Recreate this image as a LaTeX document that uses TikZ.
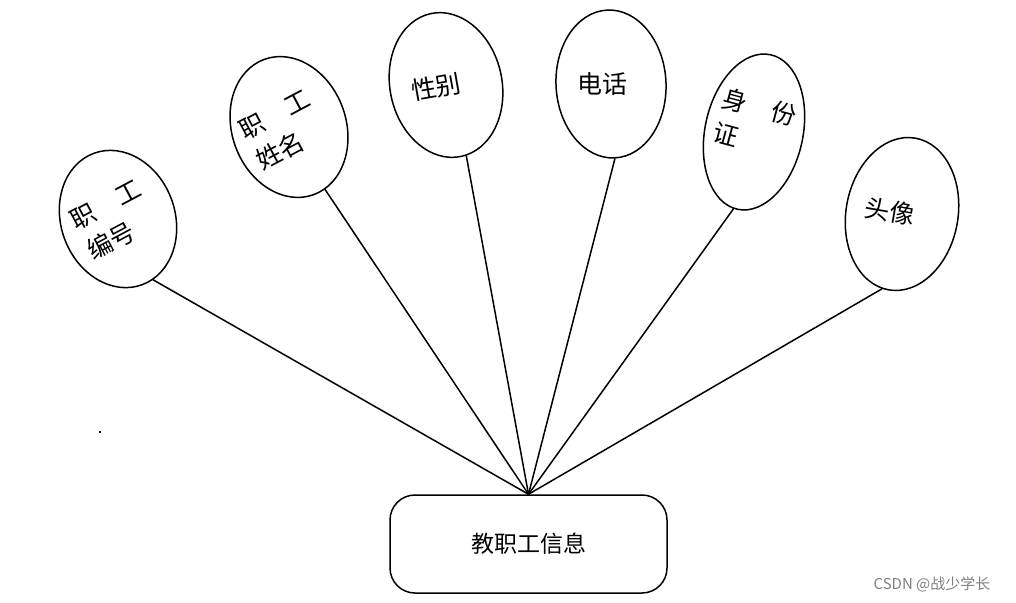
\documentclass[tikz,border=0pt]{standalone}
\usepackage{fontspec}
\setmainfont{Noto Sans CJK SC}
\usetikzlibrary{shapes.geometric}

\tikzset{
    attr/.style={draw, ellipse, line width=1.5pt, inner sep=0pt},
    attrtext/.style={font=\fontsize{25}{35}\selectfont, align=left, inner sep=0pt},
    entity/.style={draw, rounded corners=25pt, line width=1.5pt, minimum width=277pt, minimum height=98pt, font=\fontsize{23}{26}\selectfont},
    link/.style={line width=1.5pt}
}

\begin{document}
\begin{tikzpicture}[x=1pt, y=-1pt]
    \useasboundingbox (0,0) rectangle (1016,602);

    % --- Entidade ---
    \node[entity] (box) at (528.5,544) {教职工信息};

    % --- Atributos (elipses) ---
    \node[attr, minimum width=114pt, minimum height=140pt, rotate=20] (e1) at (118,219) {};
    \node[attr, minimum width=114pt, minimum height=144pt, rotate=20] (e2) at (289,127) {};
    \node[attr, minimum width=112pt, minimum height=146pt, rotate=12] (e3) at (446,85) {};
    \node[attr, minimum width=110pt, minimum height=148pt, rotate=3] (e4) at (611,84) {};
    \node[attr, minimum width=98pt, minimum height=158pt, rotate=-12] (e5) at (754,132) {};
    \node[attr, minimum width=112pt, minimum height=154pt, rotate=-10] (e6) at (902,214) {};

    % Textos das elipses
    \node[attrtext, rotate=28] (t1) at (114,220) {职\quad 工\\编号};
    \node[attrtext, rotate=28] (t2) at (283,130) {职\quad 工\\姓名};
    \node[attrtext, rotate=10] (t3) at (436,87) {性别};
    \node[attrtext] (t4) at (602,84) {电话};
    \node[attrtext, rotate=-15] (t5) at (755,124) {身\quad 份\\证};
    \node[attrtext, rotate=-10] (t6) at (890,211) {头像};

    % --- Ligações ---
    \draw[link] (e1.-80) -- (box.north);
    \draw[link] (e2.-80) -- (box.north);
    \draw[link] (e3.-86) -- (box.north);
    \draw[link] (e4.south) -- (box.north);
    \draw[link] (e5.-93) -- (box.north);
    \draw[link] (e6.-95) -- (box.north);

    % Ponto solto e marca d'água
    \node[fill, inner sep=1pt] (dot) at (100,432) {};
    \node[text=gray, font=\fontsize{15}{18}\selectfont] (mark) at (932,584) {CSDN @战少学长};
\end{tikzpicture}
\end{document}
